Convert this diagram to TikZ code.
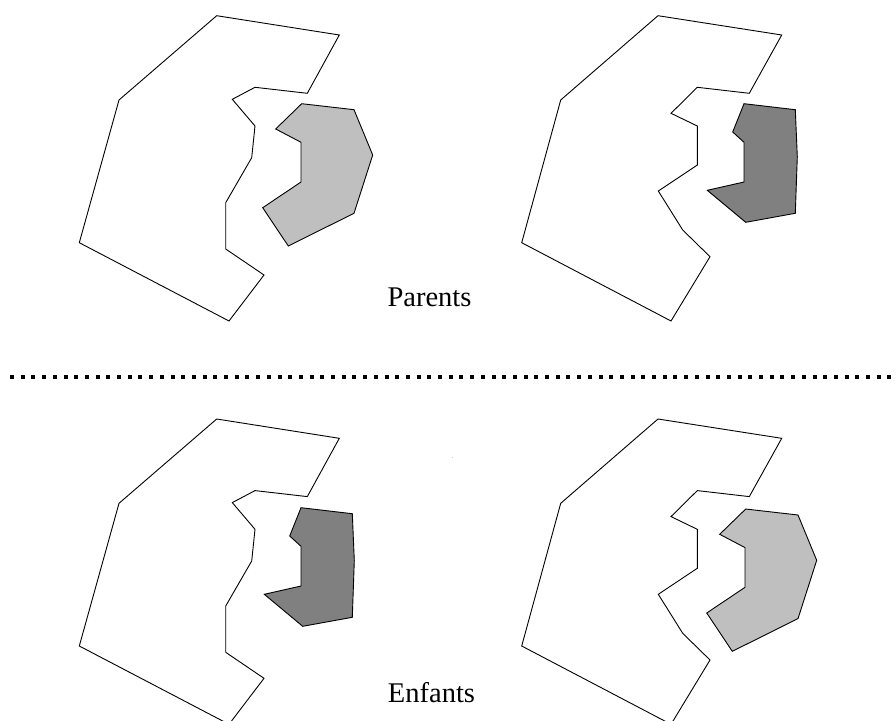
\documentclass[tikz,border=0pt]{standalone}
\usepackage{fontspec}
\setmainfont{Liberation Serif}
\begin{document}
\begin{tikzpicture}[x=1pt,y=-1pt,
  region/.style={draw=black, line width=0.9pt, fill=white, line join=miter},
  lightpart/.style={draw=black, line width=0.9pt, fill=black!25},
  darkpart/.style={draw=black, line width=0.9pt, fill=black!50},
  lbl/.style={font=\fontsize{28.5}{32}\selectfont, anchor=base, inner sep=0pt},
  separator/.style={line width=4pt, dash pattern=on 4pt off 6.7pt},
  whiteleft/.pic={\draw[region] (216.7,15.7) -- (339.3,35) -- (307.3,93.3) -- (255,87.3) -- (232.3,99.3) -- (255,126) -- (251.7,157.7) -- (225.7,202.7) -- (225.7,249) -- (264,275) -- (229,321) -- (79.3,242.7) -- (119,100) -- cycle;},
  whiteright/.pic={\draw[region] (658,15.7) -- (781.7,35) -- (749.3,93.3) -- (697.3,87.3) -- (671,113.3) -- (697.3,126) -- (697.3,165) -- (658.3,191) -- (682.7,230) -- (710,256.7) -- (671,321) -- (521.7,242.7) -- (560.7,100) -- cycle;},
  lightshape/.pic={\draw[lightpart] (301.7,103.7) -- (354,109.7) -- (372.7,155) -- (354,213.3) -- (288.3,246) -- (262.7,207.7) -- (301,182) -- (301,142.3) -- (275.7,129) -- cycle;},
  darkshape/.pic={\draw[darkpart] (744,103.7) -- (795.3,109.7) -- (797.3,156.7) -- (795.3,213.3) -- (745.7,222.3) -- (707.3,190.3) -- (744,182) -- (744,142.3) -- (732.7,132) -- cycle;}
]
\useasboundingbox (0,0) rectangle (896,720);
\begin{scope}
\clip (0,0) rectangle (896,720);
% Parents
\pic at (0,0) {whiteleft};
\pic at (0,0) {lightshape};
\pic at (0,0) {whiteright};
\pic at (0,0) {darkshape};
% Enfants
\pic at (0,403.3) {whiteleft};
\pic at (-443,404) {darkshape};
\pic at (0,403.3) {whiteright};
\pic at (444,405.3) {lightshape};
\end{scope}
\node[lbl] (parents) at (429.5,306.7) {Parents};
\node[lbl] (enfants) at (431.5,702.3) {Enfants};
\coordinate (sepL) at (10,377);
\coordinate (sepR) at (896,377);
\draw[separator] (sepL) -- (sepR);
\fill[black!20] (452.2,456.5) rectangle (453.2,457.5);
\end{tikzpicture}
\end{document}
